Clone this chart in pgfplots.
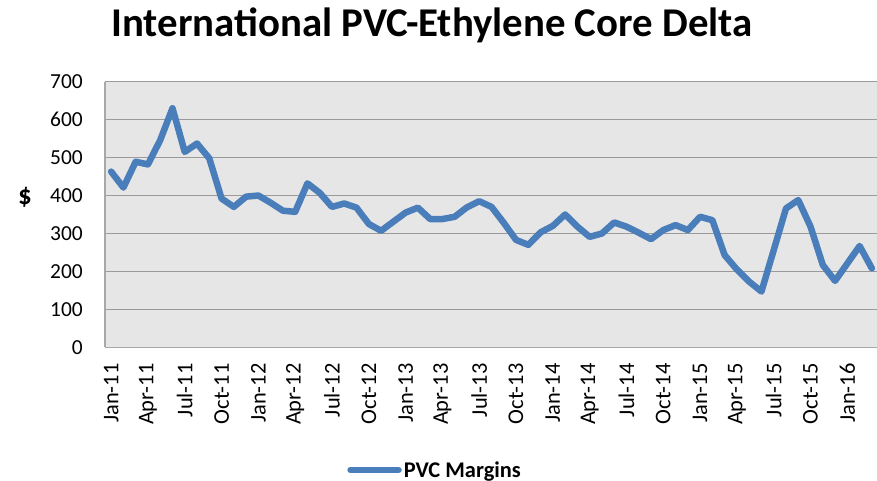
\documentclass[border=0pt]{standalone}
\usepackage{pgfplots}
\pgfplotsset{compat=1.18}
\usepackage{fontspec}
\setmainfont{Carlito}
\definecolor{linecol}{HTML}{4A7EBB}
\definecolor{bgcol}{HTML}{E6E6E6}
\definecolor{gridcol}{HTML}{9A9A9A}
\definecolor{axcol}{HTML}{A8A8A8}
\begin{document}
\begin{tikzpicture}[x=1bp,y=1bp]
\useasboundingbox (0,0) rectangle (877,481);
\begin{axis}[
  at={(105bp,133.7bp)}, anchor=south west,
  width=773bp, height=265.6bp, scale only axis,
  xmin=-0.5, xmax=62.5, ymin=0, ymax=700,
  ytick={0,100,...,700},
  xtick={0,3,...,60},
  xticklabels={Jan-11,Apr-11,Jul-11,Oct-11,Jan-12,Apr-12,Jul-12,Oct-12,Jan-13,Apr-13,Jul-13,Oct-13,Jan-14,Apr-14,Jul-14,Oct-14,Jan-15,Apr-15,Jul-15,Oct-15,Jan-16},
  /pgf/number format/assume math mode=true,
  major tick length=0pt,
  axis lines*=left,
  axis line style={draw=axcol, line width=1.3bp},
  ymajorgrids, grid style={draw=gridcol, line width=1.3bp},
  axis background/.style={fill=bgcol},
  yticklabel style={font=\fontsize{21.5}{24}\selectfont, inner sep=0pt, anchor=east},
  yticklabel shift=22bp,
  xticklabel style={font=\fontsize{22.5}{26}\selectfont, inner sep=0pt, rotate=90, anchor=east},
  xticklabel shift=16bp,
  legend style={at={(0.427,-0.462)}, anchor=center, draw=none, fill=none,
    font=\fontsize{22.5}{26}\selectfont\bfseries, inner sep=0pt},
  legend image code/.code={\draw[#1, line cap=round] (0bp,0bp) -- (48bp,0bp);},
]
\addplot[color=linecol, line width=6.5bp, line join=round, line cap=round] coordinates {
(0,463) (1,421) (2,489) (3,482) (4,546) (5,630) (6,515) (7,537) (8,498) (9,392)
(10,370) (11,397) (12,400) (13,381) (14,360) (15,357) (16,432) (17,407) (18,370) (19,379)
(20,368) (21,325) (22,307) (23,331) (24,355) (25,368) (26,338) (27,338) (28,344) (29,369)
(30,385) (31,370) (32,328) (33,283) (34,270) (35,303) (36,320) (37,350) (38,318) (39,291)
(40,300) (41,329) (42,318) (43,302) (44,285) (45,309) (46,322) (47,309) (48,344) (49,335)
(50,243) (51,205) (52,173) (53,147) (54,256) (55,366) (56,388) (57,318) (58,217) (59,175)
(60,221) (61,267) (62,208)
};
\addlegendentry{PVC Margins}
\end{axis}
\node[anchor=base, font=\fontsize{41}{48}\selectfont\bfseries, inner sep=0pt] at (432,444) {International PVC-Ethylene Core Delta};
\node[font=\fontsize{27}{30}\selectfont\bfseries, inner sep=0pt] at (25,284) {\$};
\end{tikzpicture}
\end{document}
